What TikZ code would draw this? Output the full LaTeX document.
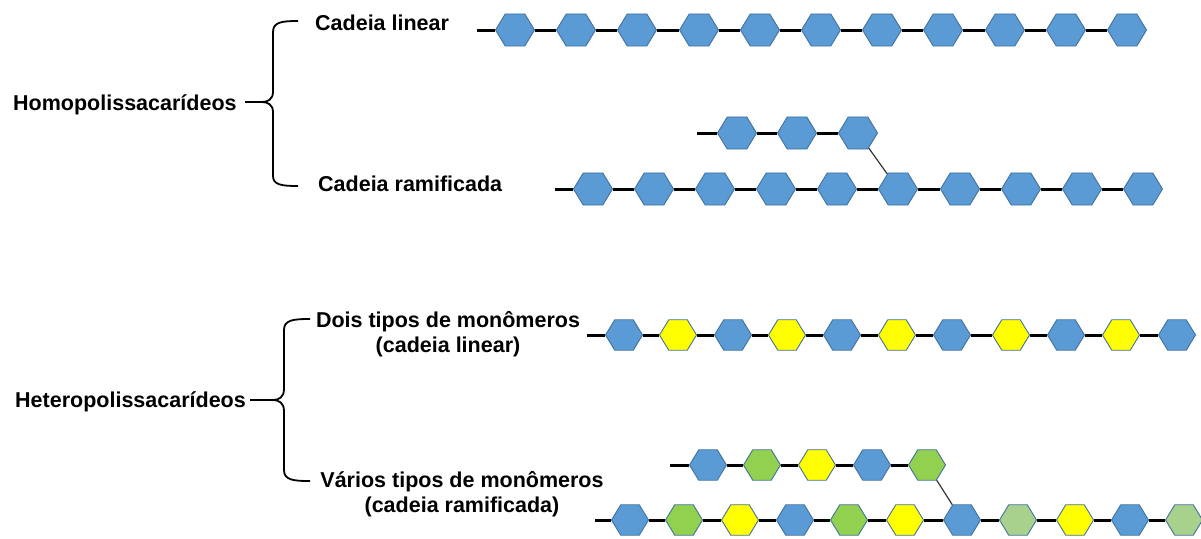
\documentclass[tikz,border=0pt]{standalone}
\usepackage{fontspec}
\setmainfont{Liberation Sans}
\usetikzlibrary{shapes.geometric}
\definecolor{hexblue}{HTML}{5B9BD5}
\definecolor{hexedge}{HTML}{41719C}
\definecolor{hexyellow}{HTML}{FFFF00}
\definecolor{hexgreen}{HTML}{92D050}
\definecolor{hexlight}{HTML}{A9D18E}

\begin{document}
\begin{tikzpicture}[x=1pt, y=-1pt,
  mono/.style={regular polygon, regular polygon sides=6, minimum size=39pt,
    inner sep=0pt, draw=hexedge, line width=0.9pt, fill=hexblue, yscale=0.95},
  monosm/.style={mono, minimum size=37pt},
  ylw/.style={fill=hexyellow},
  grn/.style={fill=hexgreen},
  lgrn/.style={fill=hexlight},
  bond/.style={line width=3pt},
  branch/.style={line width=1.2pt, draw=black!80},
  brace/.style={line width=1.8pt},
  lbl/.style={font=\fontsize{21.5}{25}\selectfont\bfseries, inner sep=0pt}]

\useasboundingbox (0,0) rectangle (1201,538);

% Homopolissacarideos
\node[lbl, anchor=base west] (homo) at (13,110) {Homopolissacarídeos};
\draw[brace] (298,21) .. controls (282,21) and (273,22) .. (273,32) -- (273,92)
  .. controls (273,99) and (268,102) .. (262,102)
  .. controls (268,102) and (273,105) .. (273,112) -- (273,176)
  .. controls (273,185) and (282,186) .. (298,186)
  (245,102) -- (262,102);
\node[lbl, anchor=base west] (clin) at (315,30) {Cadeia linear};
\node[lbl, anchor=base west] (cram) at (318,191) {Cadeia ramificada};

% Cadeia linear
\coordinate (linstart) at (477,30);
\node[mono] (lin1) at (515,30) {};
\node[mono] (lin2) at (576,30) {};
\node[mono] (lin3) at (637,30) {};
\node[mono] (lin4) at (699,30) {};
\node[mono] (lin5) at (760,30) {};
\node[mono] (lin6) at (821,30) {};
\node[mono] (lin7) at (882,30) {};
\node[mono] (lin8) at (943,30) {};
\node[mono] (lin9) at (1005,30) {};
\node[mono] (lin10) at (1066,30) {};
\node[mono] (lin11) at (1127,30) {};
\draw[bond] (linstart) -- (lin1) -- (lin2) -- (lin3) -- (lin4) -- (lin5) -- (lin6)
  -- (lin7) -- (lin8) -- (lin9) -- (lin10) -- (lin11);

% Cadeia ramificada
\coordinate (rambstart) at (697,133);
\node[mono] (ramb1) at (737,133) {};
\node[mono] (ramb2) at (797,133) {};
\node[mono] (ramb3) at (858,133) {};
\coordinate (ramstart) at (555,189);
\node[mono] (ram1) at (593,189) {};
\node[mono] (ram2) at (654,189) {};
\node[mono] (ram3) at (715,189) {};
\node[mono] (ram4) at (776,189) {};
\node[mono] (ram5) at (837,189) {};
\node[mono] (ram6) at (898,189) {};
\node[mono] (ram7) at (960,189) {};
\node[mono] (ram8) at (1021,189) {};
\node[mono] (ram9) at (1082,189) {};
\node[mono] (ram10) at (1143,189) {};
\draw[bond] (rambstart) -- (ramb1) -- (ramb2) -- (ramb3);
\draw[bond] (ramstart) -- (ram1) -- (ram2) -- (ram3) -- (ram4) -- (ram5) -- (ram6)
  -- (ram7) -- (ram8) -- (ram9) -- (ram10);
\draw[branch] (ramb3) -- (ram6);

% Heteropolissacarideos
\node[lbl, anchor=base west] (hetero) at (15,407) {Heteropolissacarídeos};
\draw[brace] (310,319) .. controls (293,319) and (284,320) .. (284,330) -- (284,389)
  .. controls (284,397) and (279,400) .. (273,400)
  .. controls (279,400) and (284,403) .. (284,411) -- (284,470)
  .. controls (284,480) and (293,481) .. (310,481)
  (250,400) -- (273,400);
\node[lbl, align=center] (dois) at (448,334) {Dois tipos de monômeros\\(cadeia linear)};
\node[lbl, align=center] (varios) at (462,494) {Vários tipos de monômeros\\(cadeia ramificada)};

% Dois tipos de monomeros
\coordinate (doisstart) at (587,335);
\node[monosm] (dois1) at (624,335) {};
\node[monosm, ylw] (dois2) at (678,335) {};
\node[monosm] (dois3) at (733,335) {};
\node[monosm, ylw] (dois4) at (787,335) {};
\node[monosm] (dois5) at (842,335) {};
\node[monosm, ylw] (dois6) at (897,335) {};
\node[monosm] (dois7) at (952,335) {};
\node[monosm, ylw] (dois8) at (1011,335) {};
\node[monosm] (dois9) at (1066,335) {};
\node[monosm, ylw] (dois10) at (1121,335) {};
\node[monosm] (dois11) at (1177,335) {};
\draw[bond] (doisstart) -- (dois1) -- (dois2) -- (dois3) -- (dois4) -- (dois5) -- (dois6)
  -- (dois7) -- (dois8) -- (dois9) -- (dois10) -- (dois11);

% Varios tipos de monomeros
\coordinate (varbstart) at (670,465);
\node[monosm] (varb1) at (708,465) {};
\node[monosm, grn] (varb2) at (762,465) {};
\node[monosm, ylw] (varb3) at (817,465) {};
\node[monosm] (varb4) at (872,465) {};
\node[monosm, grn] (varb5) at (927,465) {};
\coordinate (varstart) at (595,520);
\node[monosm] (var1) at (630,520) {};
\node[monosm, grn] (var2) at (684,520) {};
\node[monosm, ylw] (var3) at (740,520) {};
\node[monosm] (var4) at (795,520) {};
\node[monosm, grn] (var5) at (849,520) {};
\node[monosm, ylw] (var6) at (905,520) {};
\node[monosm] (var7) at (962,520) {};
\node[monosm, lgrn] (var8) at (1018,520) {};
\node[monosm, ylw] (var9) at (1075,520) {};
\node[monosm] (var10) at (1130,520) {};
\node[monosm, lgrn] (var11) at (1184,520) {};
\draw[bond] (varbstart) -- (varb1) -- (varb2) -- (varb3) -- (varb4) -- (varb5);
\draw[bond] (varstart) -- (var1) -- (var2) -- (var3) -- (var4) -- (var5) -- (var6)
  -- (var7) -- (var8) -- (var9) -- (var10) -- (var11);
\draw[branch] (varb5) -- (var7);

\end{tikzpicture}
\end{document}
